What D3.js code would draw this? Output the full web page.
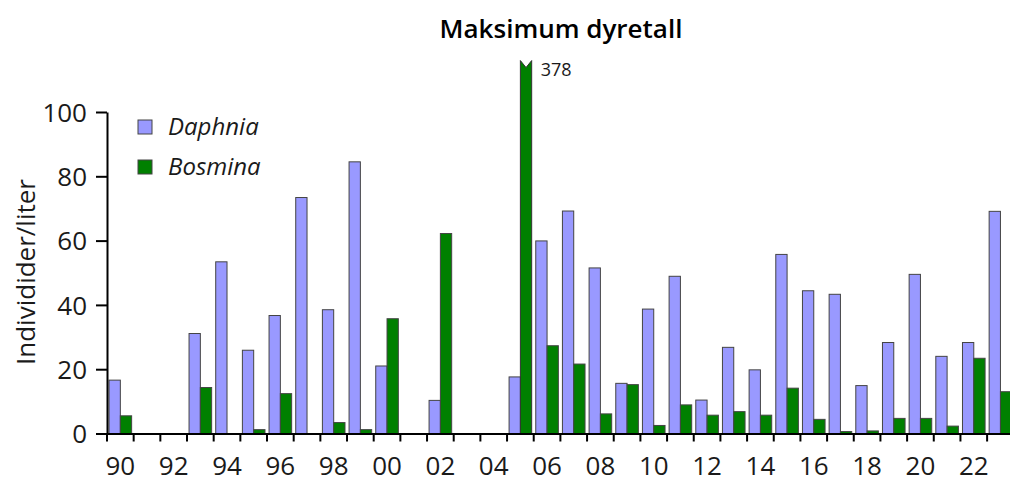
<!DOCTYPE html>
<html><head><meta charset="utf-8">
<script src="https://cdn.jsdelivr.net/npm/d3@7"></script>
<style>
html,body{margin:0;padding:0;background:#fff;overflow:hidden}
text{font-family:"Open Sans","Noto Sans",sans-serif;fill:#1a1a1a}
</style></head><body>
<svg id="c" width="1010" height="484"></svg>
<script>
const years = d3.range(1990, 2024);
const daphnia = [16.6,0,0,31.1,53.4,25.9,36.7,73.4,38.5,84.5,21.0,0,10.3,0,0,17.6,59.9,69.2,51.5,15.6,38.7,48.9,10.4,26.8,19.8,55.7,44.4,43.3,14.9,28.3,49.5,24.0,28.3,69.1];
const bosmina = [5.5,0,0,14.3,0,1.2,12.4,0,3.4,1.2,35.7,0,62.2,0,0,378,27.3,21.6,6.1,15.2,2.5,8.9,5.7,6.8,5.7,14.1,4.4,0.6,0.8,4.7,4.7,2.3,23.4,13.0];
const seriesNames = ["Daphnia","Bosmina"];
const colors = ["#9999ff","#008000"];
const yTicks = [0,20,40,60,80,100];
const yearLabels = years.filter(y => y % 2 === 0);
const breakCap = 116;

const svg = d3.select("#c");
const x = d3.scaleBand().domain(years).range([107, 107 + 34*26.67]).padding(0);
const sub = d3.scaleBand().domain(seriesNames).range([0, x.bandwidth()]).paddingInner(0).paddingOuter(0.18);
const y = d3.scaleLinear().domain([0,100]).range([433.5,112]);

// title
svg.append("text").attr("x",561).attr("y",38).attr("text-anchor","middle")
  .style("font-size","26px").style("font-weight","600").style("fill","#000").text("Maksimum dyretall");

// y label
svg.append("text").attr("transform","translate(35,272) rotate(-90)").attr("text-anchor","middle")
  .style("font-size","26px").text("Individider/liter");

// bars
const data = [];
years.forEach((yr,i)=>{
  data.push({yr, s:"Daphnia", v:daphnia[i], c:colors[0]});
  data.push({yr, s:"Bosmina", v:bosmina[i], c:colors[1]});
});
const g = svg.append("g");
data.filter(d=>d.v>0).forEach(d=>{
  const x0 = x(d.yr)+sub(d.s), w = sub.bandwidth(), x1 = x0+w;
  const y0 = y(0);
  if (d.v > breakCap) {
    const yt = y(breakCap);
    g.append("path").attr("d",`M${x0},${y0}L${x0},${yt}L${x0+w/2},${yt+7}L${x1},${yt}L${x1},${y0}Z`)
      .attr("fill",d.c).attr("stroke","#333").attr("stroke-width",1);
    svg.append("text").attr("x",x1+9).attr("y",yt+15).style("font-size","18px").text(d.v);
  } else {
    g.append("rect").attr("x",x0).attr("y",y(d.v)).attr("width",w).attr("height",y0-y(d.v))
      .attr("fill",d.c).attr("stroke","#444").attr("stroke-width",1);
  }
});

// y axis
const ya = svg.append("g").attr("transform","translate(107,0)")
  .call(d3.axisLeft(y).tickValues(yTicks).tickSize(11).tickPadding(9).tickSizeOuter(0));
ya.select(".domain").attr("stroke","#000").attr("stroke-width",2);
ya.selectAll(".tick line").attr("stroke","#000").attr("stroke-width",2);
ya.selectAll(".tick text").style("font-size","26px").attr("fill","#1a1a1a").attr("dy","0.35em");

// x axis
const xa = svg.append("g").attr("transform",`translate(0,${y(0)})`)
  .call(d3.axisBottom(x).tickValues(yearLabels).tickSize(0).tickPadding(23).tickFormat(d=>String(d).slice(2)).tickSizeOuter(0));
xa.select(".domain").attr("stroke","#000").attr("stroke-width",2);
xa.selectAll(".tick text").style("font-size","26px").attr("fill","#1a1a1a");
// boundary ticks
xa.selectAll("line.bt").data(years).enter().append("line").attr("class","bt")
  .attr("x1",d=>x(d)).attr("x2",d=>x(d)).attr("y1",0).attr("y2",8).attr("stroke","#000").attr("stroke-width",2);

// legend
const lg = svg.append("g");
seriesNames.forEach((s,i)=>{
  const ly = 127 + i*40;
  lg.append("rect").attr("x",138).attr("y",ly-7).attr("width",14).attr("height",14)
    .attr("fill",colors[i]).attr("stroke","#444").attr("stroke-width",1);
  lg.append("text").attr("x",168).attr("y",ly).attr("dy","0.35em").style("font-size","24px")
    .style("font-style","italic").text(s);
});
</script></body></html>
